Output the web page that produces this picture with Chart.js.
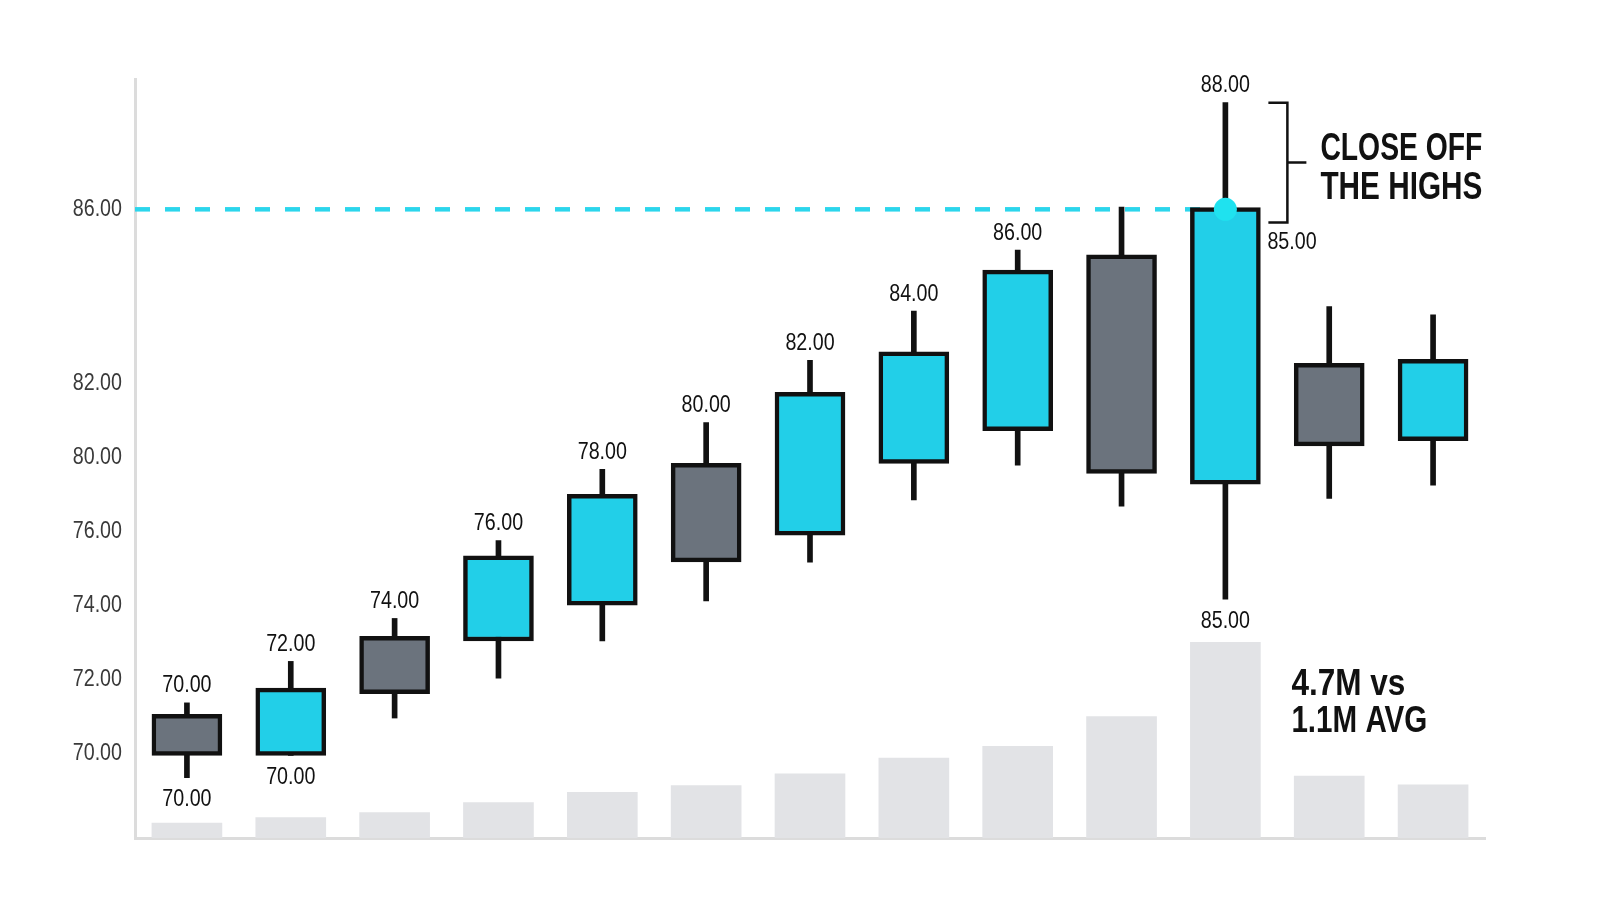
<!DOCTYPE html>
<html>
<head>
<meta charset="utf-8">
<script src="https://cdn.jsdelivr.net/npm/chart.js@4.4.1/dist/chart.umd.min.js"></script>
<style>
  html, body { margin: 0; padding: 0; background: #fff; }
  #wrap { width: 1600px; height: 914px; }
</style>
</head>
<body>
<div id="wrap"><canvas id="chart"></canvas></div>
<script>
// sessions
const days = ['D1', 'D2', 'D3', 'D4', 'D5', 'D6', 'D7', 'D8', 'D9', 'D10', 'D11', 'D12', 'D13'];

// candle values, in the chart's own price units
const opens  = [71.06, 69.95, 73.17, 73.04, 74.01, 77.84, 75.90, 77.84, 78.72, 83.47, 77.28, 80.54, 78.45];
const closes = [69.95, 71.77, 71.62, 75.34, 77.00, 75.18, 79.76, 80.85, 83.06, 77.57, 84.75, 78.31, 80.65];
const highs  = [71.37, 72.49, 73.65, 75.75, 77.68, 78.94, 80.62, 81.95, 83.60, 84.76, 87.58, 82.07, 81.85];
const lows   = [69.35, 69.95, 70.96, 72.04, 73.04, 74.12, 75.17, 76.85, 77.79, 76.68, 74.17, 76.89, 77.25];

// volume in millions
const volumes = [0.36, 0.49, 0.61, 0.85, 1.10, 1.26, 1.54, 1.92, 2.20, 2.92, 4.70, 1.49, 1.28];

// y axis ticks as printed
const priceTickValues = [70, 72, 74, 76, 78, 80, 84.7];
const priceTickLabels = ['70.00', '72.00', '74.00', '76.00', '80.00', '82.00', '86.00'];

// text printed above / below the wicks
const highLabels = ['70.00', '72.00', '74.00', '76.00', '78.00', '80.00', '82.00', '84.00', '86.00', null, '88.00', null, null];
const lowLabels  = ['70.00', '70.00', null, null, null, null, null, null, null, null, '85.00', null, null];

const resistance = 84.7;     // dashed level (86.00 tick)
const focus = 10;            // the "close off the highs" candle
const closeLabel = '85.00';
const noteHighs = ['CLOSE OFF', 'THE HIGHS'];
const noteVolume = ['4.7M vs', '1.1M AVG'];

const CYAN = '#22cfe8';
const GREY = '#6b737d';
const INK = '#111111';
const SANS = '"Liberation Sans", Arial, sans-serif';

const bodyColors = opens.map((o, i) => closes[i] >= o ? CYAN : GREY);

// condensed text: squeeze the natural width
function narrow(ctx, text, x, y, k) {
  const w = ctx.measureText(text).width;
  ctx.fillText(text, x, y, w * k);
}

const overlay = {
  id: 'overlay',
  beforeDatasetsDraw(chart) {
    const { ctx, chartArea, scales: { x, y } } = chart;
    const yy = y.getPixelForValue(resistance);
    ctx.save();
    ctx.strokeStyle = '#2cd6ec';
    ctx.lineWidth = 4.5;
    ctx.setLineDash([15, 15]);
    ctx.beginPath();
    ctx.moveTo(chartArea.left, yy);
    ctx.lineTo(x.getPixelForValue(focus), yy);
    ctx.stroke();
    ctx.restore();
  },
  afterDatasetsDraw(chart) {
    const { ctx, chartArea, scales: { x, y } } = chart;
    ctx.save();
    ctx.font = '24px ' + SANS;
    ctx.textBaseline = 'middle';

    // y tick labels
    ctx.fillStyle = '#3a3a3a';
    ctx.textAlign = 'right';
    priceTickValues.forEach((v, i) => {
      narrow(ctx, priceTickLabels[i], chartArea.left - 13, y.getPixelForValue(v), 0.82);
    });

    ctx.fillStyle = INK;
    ctx.textAlign = 'center';
    days.forEach((d, i) => {
      const cx = x.getPixelForValue(i);
      if (highLabels[i]) narrow(ctx, highLabels[i], cx, y.getPixelForValue(highs[i]) - 17, 0.82);
      if (lowLabels[i]) narrow(ctx, lowLabels[i], cx, y.getPixelForValue(lows[i]) + 22, 0.82);
    });

    // focus candle annotations
    const fx = x.getPixelForValue(focus);
    const hy = y.getPixelForValue(highs[focus]);
    const cy = y.getPixelForValue(closes[focus]);
    ctx.textAlign = 'left';
    narrow(ctx, closeLabel, fx + 42, cy + 35, 0.82);

    // dot at the close
    ctx.fillStyle = '#1fe2ef';
    ctx.beginPath();
    ctx.arc(fx, y.getPixelForValue(resistance), 11.5, 0, Math.PI * 2);
    ctx.fill();

    // bracket
    const bx = fx + 62, top = hy, bot = cy + 15, mid = (top + bot) / 2;
    ctx.strokeStyle = INK;
    ctx.lineWidth = 2.5;
    ctx.beginPath();
    ctx.moveTo(fx + 43, top); ctx.lineTo(bx, top); ctx.lineTo(bx, bot); ctx.lineTo(fx + 43, bot);
    ctx.moveTo(bx, mid); ctx.lineTo(fx + 81, mid);
    ctx.stroke();

    ctx.fillStyle = INK;
    ctx.textBaseline = 'alphabetic';
    ctx.font = 'bold 38px ' + SANS;
    ctx.fillText(noteHighs[0], fx + 95, mid - 3, 162);
    ctx.fillText(noteHighs[1], fx + 95, mid + 36, 162);

    const vy = chart.scales.vol.getPixelForValue(volumes[focus]);
    ctx.font = 'bold 37px ' + SANS;
    ctx.fillText(noteVolume[0], fx + 66, vy + 53, 114);
    ctx.fillText(noteVolume[1], fx + 66, vy + 90, 136);
    ctx.restore();
  }
};

new Chart(document.getElementById('chart'), {
  type: 'bar',
  data: {
    labels: days,
    datasets: [
      {
        label: 'Body',
        data: opens.map((o, i) => [o, closes[i]]),
        backgroundColor: bodyColors,
        borderColor: INK,
        borderWidth: 4.5,
        borderSkipped: false,
        barThickness: 70,
        grouped: false,
        yAxisID: 'y',
        order: 1
      },
      {
        label: 'Wick',
        data: lows.map((l, i) => [l, highs[i]]),
        backgroundColor: INK,
        borderWidth: 0,
        barThickness: 5,
        grouped: false,
        yAxisID: 'y',
        order: 2
      },
      {
        label: 'Volume',
        data: volumes,
        backgroundColor: '#e2e3e6',
        borderWidth: 0,
        barThickness: 70,
        grouped: false,
        yAxisID: 'vol',
        order: 3
      }
    ]
  },
  options: {
    responsive: true,
    maintainAspectRatio: false,
    animation: false,
    layout: { padding: { top: 79, right: 115, bottom: 76, left: 0 } },
    plugins: { legend: { display: false }, tooltip: { enabled: false } },
    scales: {
      x: {
        grid: { display: false, drawTicks: false },
        border: { color: '#dcdcdc', width: 3 },
        ticks: { display: false },
        afterFit: s => { s.height = 0; }
      },
      y: {
        position: 'left',
        min: 67.72,
        max: 88.22,
        grid: { display: false, drawTicks: false },
        border: { color: '#dcdcdc', width: 3 },
        afterBuildTicks: s => { s.ticks = priceTickValues.map(v => ({ value: v })); },
        afterFit: s => { s.width = 135; },
        ticks: { display: false }
      },
      vol: {
        display: false,
        min: 0,
        max: 18.24
      }
    }
  },
  plugins: [overlay]
});
</script>
</body>
</html>
